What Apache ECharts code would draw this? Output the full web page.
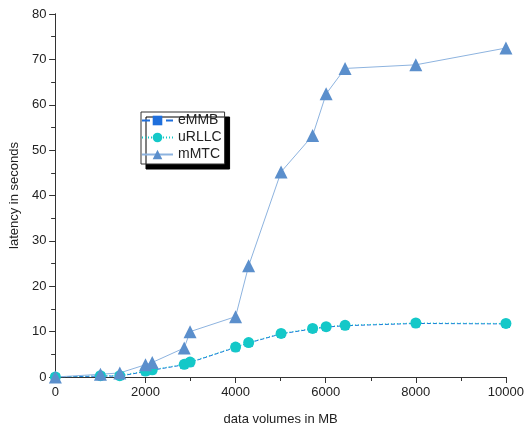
<!DOCTYPE html>
<html><head><meta charset="utf-8">
<script src="https://cdn.jsdelivr.net/npm/echarts@6/dist/echarts.min.js"></script>
<style>html,body{margin:0;padding:0;background:#fff}#c{width:527px;height:431px}</style>
</head><body><div id="c"></div>
<script>
var xVals = [0, 1000, 1430, 2000, 2150, 2860, 2990, 4000, 4290, 5010, 5710, 6010, 6430, 8000, 10000];
var eMMB  = [0, 0.2, 0.2, 1.2, 1.5, 2.7, 3.2, 6.5, 7.5, 9.5, 10.6, 11.0, 11.3, 11.8, 11.7];
var uRLLC = [0, 0.3, 0.3, 1.3, 1.6, 2.8, 3.3, 6.6, 7.6, 9.6, 10.7, 11.1, 11.4, 11.9, 11.8];
var mMTC  = [0, 0.6, 0.9, 2.7, 3.2, 6.4, 10.0, 13.3, 24.5, 45.2, 53.2, 62.4, 68.0, 68.8, 72.5];
var seriesNames = ['eMMB', 'uRLLC', 'mMTC'];

function pairs(ys){ return xVals.map(function(x,i){ return [x, ys[i]]; }); }

var font = 'Liberation Sans, Arial, sans-serif';
var axisCol = '#333';
var plain = function(v){ return String(v); };
var chart = echarts.init(document.getElementById('c'));
chart.setOption({
  animation: false,
  grid: {left: 54, right: 19, top: 14, bottom: 51},
  legend: {
    left: 141, top: 112, orient: 'vertical',
    data: seriesNames,
    itemWidth: 31, itemHeight: 12, itemGap: 2,
    padding: [1, 3, 2, 0],
    backgroundColor: '#fff', borderColor: '#333', borderWidth: 1,
    shadowColor: '#000', shadowBlur: 0, shadowOffsetX: 5, shadowOffsetY: 5,
    textStyle: {fontFamily: font, fontSize: 14, color: '#222', lineHeight: 15}
  },
  xAxis: [{
    type: 'value', min: 0, max: 10000, interval: 2000,
    name: 'data volumes in MB', nameLocation: 'middle', nameGap: 36,
    nameTextStyle: {fontFamily: font, fontSize: 13, color: '#222'},
    axisLine: {show: true, lineStyle: {color: axisCol}},
    axisTick: {show: true, inside: false, length: 6, lineStyle: {color: axisCol}},
    minorTick: {show: true, splitNumber: 2, length: 4, lineStyle: {color: axisCol}},
    axisLabel: {fontFamily: font, fontSize: 13, color: '#222', margin: 9, formatter: plain},
    splitLine: {show: false}
  }, {
    type: 'value', min: 0, max: 10000, interval: 2000, position: 'top',
    axisLine: {show: true, lineStyle: {color: axisCol}},
    axisTick: {show: true, inside: true, length: 6, lineStyle: {color: axisCol}},
    minorTick: {show: true, splitNumber: 2, length: 4, lineStyle: {color: axisCol}},
    axisLabel: {show: false}, splitLine: {show: false}
  }],
  yAxis: [{
    type: 'value', min: 0, max: 80, interval: 10,
    name: 'latency in seconds', nameLocation: 'middle', nameGap: 33,
    nameTextStyle: {fontFamily: font, fontSize: 13, color: '#222'},
    axisLine: {show: true, lineStyle: {color: axisCol}},
    axisTick: {show: true, inside: false, length: 6, lineStyle: {color: axisCol}},
    minorTick: {show: true, splitNumber: 2, length: 4, lineStyle: {color: axisCol}},
    axisLabel: {fontFamily: font, fontSize: 13, color: '#222', margin: 9, formatter: plain},
    splitLine: {show: false}
  }, {
    type: 'value', min: 0, max: 80, interval: 10, position: 'right',
    axisLine: {show: true, lineStyle: {color: axisCol}},
    axisTick: {show: true, inside: true, length: 6, lineStyle: {color: axisCol}},
    minorTick: {show: true, splitNumber: 2, length: 4, lineStyle: {color: axisCol}},
    axisLabel: {show: false}, splitLine: {show: false}
  }],
  series: [{
    name: 'eMMB', type: 'line', data: pairs(eMMB),
    symbol: 'rect', symbolSize: 8,
    itemStyle: {color: '#1f6fdc'},
    lineStyle: {color: '#1f6fdc', width: 1, type: 'dashed'}
  }, {
    name: 'uRLLC', type: 'line', data: pairs(uRLLC),
    symbol: 'circle', symbolSize: 11,
    itemStyle: {color: '#14c8c8'},
    lineStyle: {color: '#14c8c8', width: 1, type: [1, 2]}
  }, {
    name: 'mMTC', type: 'line', data: pairs(mMTC),
    symbol: 'triangle', symbolSize: 13,
    itemStyle: {color: '#5b8fcc'},
    lineStyle: {color: '#8db3df', width: 1}
  }]
});
</script></body></html>
